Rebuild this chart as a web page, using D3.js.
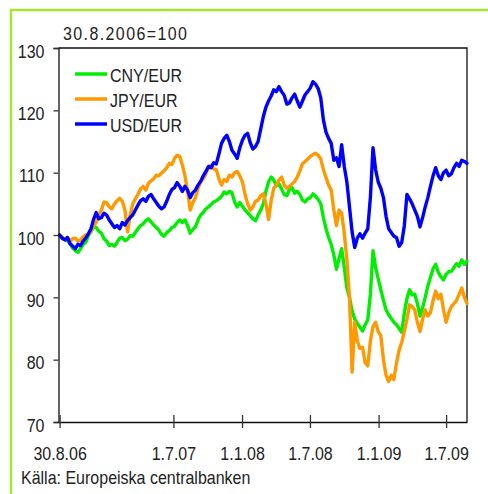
<!DOCTYPE html>
<html>
<head>
<meta charset="utf-8">
<script src="https://cdn.jsdelivr.net/npm/d3@7"></script>
<style>
  html, body { margin: 0; padding: 0; background: #ffffff; }
  svg { display: block; font-family: "Liberation Sans", Arial, sans-serif; }
</style>
</head>
<body>
<svg id="chart" width="488" height="494"></svg>
<script>
// ---- data (weekly readings, index 30.8.2006 = 100) ----
const startDate = "2006-08-30";
const stepDays = 7;
const seriesNames = ["CNY/EUR", "JPY/EUR", "USD/EUR"];
const seriesColors = ["#00ee00", "#ff9900", "#0000ff"];

const cnyValues = [
  100, 99.6, 99.3, 99.1, 98.6, 97.9, 97.5, 97.2, 97.8, 98.5,
  98.8, 99.9, 100.5, 101.3, 101.2, 100.6, 100.3, 99.4, 99.0, 98.3,
  98.5, 98.2, 98.8, 99.5, 99.6, 99.1, 99.3, 99.9, 99.8, 100.4,
  101.0, 101.5, 101.8, 102.3, 102.6, 102.1, 101.6, 101.2, 100.8, 100.1,
  99.8, 100.4, 100.7, 101.2, 101.4, 102.0, 102.4, 102.0, 102.4, 101.5,
  100.3, 100.9, 101.3, 102.4, 103.2, 103.6, 104.2, 104.5, 104.9, 105.3,
  105.5, 105.8, 106.2, 106.9, 106.6, 107.0, 106.8, 105.3, 104.5, 105.2,
  104.6, 104.0, 103.6, 103.1, 102.6, 102.3, 103.2, 104.0, 105.0, 107.0,
  108.5, 109.3, 108.8, 107.9, 108.2, 107.4, 106.5, 106.3, 107.3, 107.6,
  106.7, 107.0, 106.5, 105.6, 105.3, 105.8, 106.0, 106.6, 106.2, 105.7,
  105.0, 102.8, 101.0, 99.6, 98.5, 96.8, 94.5, 96.2, 97.8, 94.8,
  91.5, 90.0, 87.8, 86.5, 85.8, 85.2, 84.6, 85.6, 86.4, 90.5,
  97.5, 94.8, 93.0, 91.2, 89.5, 88.0, 87.2, 86.6, 86.0, 85.6,
  85.0, 84.4, 87.5, 89.8, 91.2, 90.4, 90.5, 89.0, 87.0, 88.3,
  90.0, 91.8, 93.2, 94.6, 95.3, 94.0, 93.3, 92.8, 93.7, 94.1,
  94.2, 94.8, 95.4, 95.0, 96.0, 95.3, 95.8];

const jpyValues = [
  100, 99.4, 99.3, 99.6, 99.0, 99.4, 99.5, 99.0, 99.2, 99.7,
  100.0, 100.2, 100.6, 101.5, 102.0, 103.2, 104.0, 105.3, 105.2, 104.5,
  104.2, 105.0, 105.5, 105.9, 105.4, 104.0, 100.5, 103.2, 105.0, 105.8,
  106.5, 107.4, 107.8, 107.2, 108.3, 108.7, 109.0, 109.6, 109.5, 109.9,
  110.3, 110.8, 111.5, 111.3, 112.3, 112.8, 112.6, 111.2, 109.5, 107.0,
  104.0, 105.2, 106.0, 107.5, 108.5, 109.0, 109.8, 111.0, 111.2, 110.6,
  110.5, 109.0, 108.0, 108.9, 108.6, 109.6, 109.3, 110.0, 110.2, 109.5,
  108.5, 106.5, 105.0, 104.0, 104.5, 105.4, 105.6, 106.3, 106.6, 105.0,
  102.5, 105.5, 107.5, 108.0, 108.8, 109.3, 108.0, 107.5, 107.8, 108.2,
  108.6, 109.3, 110.3, 111.4, 111.8, 112.2, 112.6, 112.9, 113.1, 112.8,
  112.2, 110.5, 109.2, 108.0, 107.2, 104.0, 101.5, 104.0, 103.5, 100.3,
  96.0, 90.0, 78.0, 86.0, 83.0, 81.8, 82.0, 79.5, 79.0, 83.0,
  85.3, 86.0, 84.5, 83.8, 80.0, 77.5, 76.5, 77.5, 76.8, 79.5,
  81.5, 82.8, 84.5, 86.5, 88.8, 88.5, 88.0, 86.0, 84.5, 86.5,
  88.0, 87.0, 87.5, 89.5, 91.0, 89.8, 90.5, 88.0, 86.0, 87.5,
  88.5, 89.0, 89.5, 90.5, 91.5, 90.0, 89.0];

const usdValues = [
  100, 99.5, 99.2, 99.6, 98.6, 98.2, 97.8, 98.5, 98.3, 99.0,
  99.5, 100.2, 101.0, 102.5, 103.6, 102.6, 102.8, 103.5, 103.2, 102.4,
  101.8, 101.2, 101.5, 101.0, 102.0, 101.6, 102.3, 102.8, 103.2, 104.0,
  104.8, 105.5, 105.8, 105.4, 106.2, 106.5, 105.8, 105.2, 104.6, 104.2,
  104.5, 105.4, 106.5, 107.3, 107.6, 108.4, 107.8, 107.0, 107.8, 107.2,
  106.0, 106.8, 107.2, 108.0, 108.6, 109.5, 110.2, 111.0, 110.8, 111.6,
  111.4, 113.0, 114.7, 115.5, 116.0, 115.0, 113.6, 113.0, 112.3, 114.0,
  115.2, 116.0, 116.3, 114.8, 113.8, 114.2, 115.0, 117.0, 119.0, 120.5,
  121.5, 122.3, 123.3, 123.0, 123.8, 123.0, 122.4, 121.0, 121.2, 122.0,
  122.6, 121.5, 120.5, 121.5, 122.5, 123.0, 123.6, 124.6, 124.2, 123.5,
  122.0, 118.5, 116.5, 115.5, 114.7, 112.0, 112.4, 111.0, 114.5, 111.0,
  108.5, 104.5, 100.5, 98.0, 99.5, 100.2, 99.5, 100.3, 101.0, 106.0,
  114.0, 110.5, 108.5, 107.5, 106.0, 103.0, 101.0, 100.4, 99.8, 99.6,
  98.2, 98.8, 101.5, 106.5, 105.8, 105.0, 104.0, 103.0, 101.3, 102.8,
  104.5, 106.0, 107.8, 109.5, 110.8, 109.5, 108.9, 110.0, 110.4, 109.5,
  109.8, 110.8, 111.5, 111.0, 112.0, 111.8, 111.5];

const yTicks = [70, 80, 90, 100, 110, 120, 130];
const xTickDates = ["2006-08-30", "2007-07-01", "2008-01-01", "2008-07-01", "2009-01-01", "2009-07-01"];
const xTickLabels = ["30.8.06", "1.7.07", "1.1.08", "1.7.08", "1.1.09", "1.7.09"];
const baseText = "30.8.2006=100";
const sourceText = "Källa: Europeiska centralbanken";

// ---- drawing ----
const svg = d3.select("#chart");
const parse = d3.utcParse("%Y-%m-%d");
const mLeft = 58.5, mRight = 467, mTop = 48, mBottom = 422;
const stretch = 1.15; // text in the original is slightly tall

// text placed at (tx, ty) baseline, vertically stretched
function addText(tx, ty, str, anchor) {
  return svg.append("text")
    .attr("transform", `translate(${tx},${ty}) scale(1,${stretch})`)
    .attr("text-anchor", anchor || "start")
    .attr("font-size", 16).attr("fill", "#222")
    .text(str);
}

// outer border
svg.append("rect")
  .attr("x", 11).attr("y", 10)
  .attr("width", 520).attr("height", 520)
  .attr("fill", "none").attr("stroke", "#a4e632").attr("stroke-width", 2.5);

const x = d3.scaleUtc()
  .domain([parse("2006-08-27"), parse("2009-08-26")])
  .range([mLeft, mRight]);
const y = d3.scaleLinear().domain([70, 130]).range([mBottom, mTop]);

const start = parse(startDate);
const allSeries = [cnyValues, jpyValues, usdValues];

// frame (top and right)
svg.append("path")
  .attr("d", `M${mLeft},${mTop}H${mRight}V${mBottom}`)
  .attr("fill", "none").attr("stroke", "#111").attr("stroke-width", 1.3);

// series lines
const line = d3.line()
  .x((d, i) => x(d3.utcDay.offset(start, i * stepDays)))
  .y(d => y(d));
allSeries.forEach((vals, k) => {
  svg.append("path")
    .datum(vals)
    .attr("d", line)
    .attr("fill", "none")
    .attr("stroke", seriesColors[k])
    .attr("stroke-width", 3.4)
    .attr("stroke-linejoin", "round")
    .attr("stroke-linecap", "round");
});

// y axis
const yAxis = d3.axisLeft(y).tickValues(yTicks).tickSize(5).tickPadding(9).tickFormat(d3.format("d"));
const gy = svg.append("g").attr("transform", `translate(${mLeft},0)`).call(yAxis);
gy.select(".domain").attr("stroke", "#111").attr("stroke-width", 1.3);
gy.selectAll(".tick line").attr("stroke", "#333").attr("stroke-width", 1.3);
gy.selectAll(".tick text").attr("font-size", 16).attr("fill", "#222")
  .attr("font-family", "Liberation Sans, Arial, sans-serif")
  .attr("x", 0).attr("dy", 0).attr("y", 0)
  .attr("transform", `translate(-14,9) scale(1,${stretch})`);

// x axis
const xAxis = d3.axisBottom(x)
  .tickValues(xTickDates.map(parse))
  .tickSizeInner(0).tickSizeOuter(0)
  .tickFormat((d, i) => xTickLabels[i]);
const gx = svg.append("g").attr("transform", `translate(0,${mBottom})`).call(xAxis);
gx.select(".domain").attr("stroke", "#111").attr("stroke-width", 1.3);
gx.selectAll(".tick line").attr("y1", -7).attr("y2", 6).attr("stroke", "#333").attr("stroke-width", 1.3);
gx.selectAll(".tick text").attr("font-size", 16).attr("fill", "#222")
  .attr("font-family", "Liberation Sans, Arial, sans-serif")
  .attr("y", 0).attr("dy", 0)
  .attr("transform", `translate(0,38) scale(1,${stretch})`);

// base label
addText(63, 39.5, baseText).attr("letter-spacing", 1.4);

// legend
const legendY = [74, 99, 124];
seriesNames.forEach((name, k) => {
  svg.append("line")
    .attr("x1", 75).attr("x2", 107)
    .attr("y1", legendY[k]).attr("y2", legendY[k])
    .attr("stroke", seriesColors[k]).attr("stroke-width", 3.5);
  addText(110, legendY[k] + 7.8, name);
});

// source
addText(21, 484, sourceText);
</script>
</body>
</html>
